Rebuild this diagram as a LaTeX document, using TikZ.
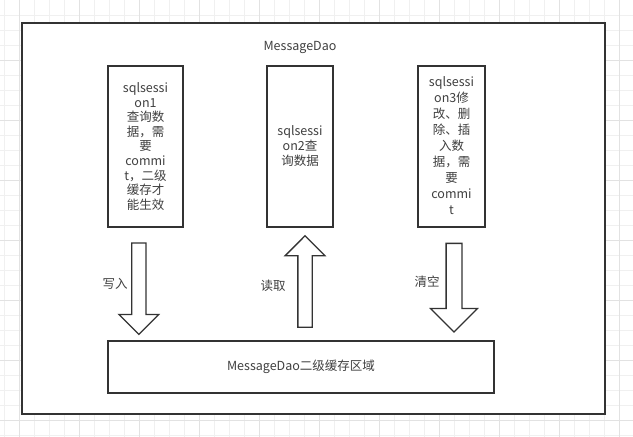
\documentclass[tikz,border=0pt]{standalone}
\usepackage{fontspec}
\setmainfont{Noto Sans CJK SC}
\usetikzlibrary{positioning,shapes.arrows}
\definecolor{InkGray}{RGB}{51,51,51}
\definecolor{TextGray}{RGB}{64,64,64}
\definecolor{GridLight}{RGB}{240,240,240}
\definecolor{GridDark}{RGB}{226,226,226}
\tikzset{gridline/.style={draw=GridLight,line width=0.8pt},
 gridmajor/.style={draw=GridDark,line width=0.8pt},
 frame/.style={draw=InkGray,line width=2pt,fill=white,minimum width=583pt,minimum height=391pt,inner sep=0pt},
 sess/.style={draw=InkGray,line width=2pt,align=center,text=TextGray,font=\fontsize{12.5}{14.6}\selectfont,minimum height=161pt,inner sep=0pt},
 cache/.style={draw=InkGray,line width=2pt,text=TextGray,font=\fontsize{12.5}{15}\selectfont,minimum width=386pt,minimum height=52pt,inner sep=0pt},
 flow/.style={single arrow,draw=InkGray,line width=1.3pt,fill=white,inner xsep=0pt,inner ysep=6.5pt,single arrow head extend=12.7pt,minimum width=0pt,minimum height=91.4pt},
 lab/.style={text=TextGray,font=\fontsize{12.5}{15}\selectfont,inner sep=0pt}}

\begin{document}
\begin{tikzpicture}[x=1pt,y=-1pt]
\useasboundingbox (0,0) rectangle (633,437);
\fill[white] (0,0) rectangle (633,437);
\foreach \i in {0,...,42} \draw[gridline] (4.3+15*\i,0) -- (4.3+15*\i,437);
\foreach \j in {1,...,29} \draw[gridline] (0,15*\j) -- (633,15*\j);
\foreach \i in {0,...,10} \draw[gridmajor] (19.3+60*\i,0) -- (19.3+60*\i,437);
\foreach \j in {1,...,7} \draw[gridmajor] (0,60*\j) -- (633,60*\j);
\coordinate (pdao) at (313.5,218.5);
\coordinate (ptitle) at (300,47);
\coordinate (pone) at (145.5,146.5);
\coordinate (ptwo) at (300,146);
\coordinate (pthree) at (451.5,146);
\coordinate (pcache) at (301,367.3);
\coordinate (pw) at (138.8,285.1);
\coordinate (pr) at (305,285.1);
\coordinate (pc) at (454,283.7);
\node[frame] (dao) at (pdao) {};
\node[lab] (title) at (ptitle) {MessageDao};
\node[sess,minimum width=75pt] (sone) at (pone) {sqlsessi\\on1\\查询数\\据，需\\要\\commi\\t，二级\\缓存才\\能生效};
\node[sess,minimum width=66pt] (stwo) at (ptwo) {sqlsessi\\on2查\\询数据};
\node[sess,minimum width=67pt,font=\fontsize{12.5}{16}\selectfont] (sthree) at (pthree) {sqlsessi\\on3修\\改、删\\除、插\\入数\\据，需\\要\\commi\\t};
\node[cache] (region) at (pcache) {MessageDao二级缓存区域};
\node[flow,rotate=-90] (warrow) at (pw) {};
\node[flow,rotate=90] (rarrow) at (pr) {};
\node[flow,rotate=-90,inner ysep=7.25pt,single arrow head extend=15.5pt,minimum height=88.6pt] (carrow) at (pc) {};
\node[lab] (wlab) at (115,284) {写入};
\node[lab] (rlab) at (273,286) {读取};
\node[lab] (clab) at (427,282) {清空};
\end{tikzpicture}
\end{document}
